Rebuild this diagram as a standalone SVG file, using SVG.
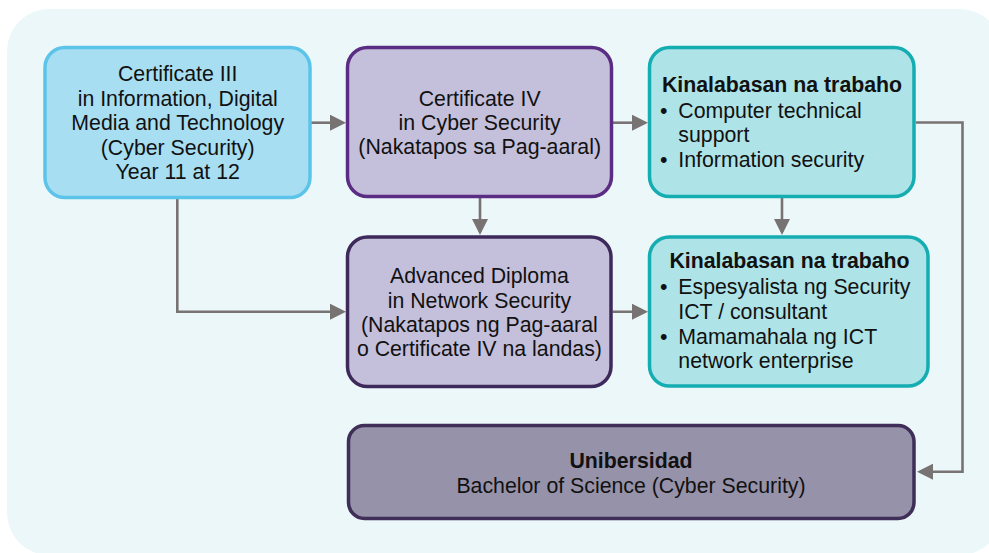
<svg xmlns="http://www.w3.org/2000/svg" width="989" height="553" viewBox="0 0 989 553">
<style>
text{font-family:"Liberation Sans",Arial,"Noto Sans",sans-serif;font-size:21.3px;fill:#111;}
.c{text-anchor:middle;}
.b{font-weight:bold;}
.box{stroke-width:3.5;}
.blue{fill:#a8def2;stroke:#5cc4e9;}
.lav{fill:#c4c0db;stroke:#5b2c83;}
.lav2{fill:#c4c0db;stroke:#3e2a5a;}
.teal{fill:#aee3e7;stroke:#14adb1;}
.uni{fill:#9692a9;stroke:#3e2e58;}
.conn{fill:none;stroke:#787373;stroke-width:2.6;marker-end:url(#ah);}
</style>
<defs>
<marker id="ah" markerUnits="userSpaceOnUse" markerWidth="16" markerHeight="16" refX="13" refY="8" orient="auto">
<path d="M0,0 L16,8 L0,16 Z" fill="#787373"/>
</marker>
</defs>
<rect x="7" y="9" width="995" height="546" rx="42" fill="#ecf7fa"/>
<g id="connectors">
<path class="conn" d="M311,122.7 H343"/>
<path class="conn" d="M613,122.7 H645"/>
<path class="conn" d="M480,198 V232"/>
<path class="conn" d="M782,198 V232"/>
<path class="conn" d="M177.3,199 V311.7 H343"/>
<path class="conn" d="M612.5,311.7 H645"/>
<path class="conn" d="M916,122.5 H962.5 V471.7 H920"/>
</g>
<g id="cert3">
<rect class="box blue" x="45" y="47.5" width="265" height="150" rx="20"/>
<text class="c" x="177.7" y="81">Certificate III</text>
<text class="c" x="177.7" y="105.6">in Information, Digital</text>
<text class="c" x="177.7" y="130.2">Media and Technology</text>
<text class="c" x="177.7" y="154.7">(Cyber Security)</text>
<text class="c" x="177.7" y="179.3">Year 11 at 12</text>
</g>
<g id="cert4">
<rect class="box lav" x="347.5" y="47.5" width="264" height="149" rx="20"/>
<text class="c" x="479.7" y="106">Certificate IV</text>
<text class="c" x="479.7" y="130">in Cyber Security</text>
<text class="c" x="479.7" y="154">(Nakatapos sa Pag-aaral)</text>
</g>
<g id="jobs1">
<rect class="box teal" x="649.5" y="47.5" width="264.5" height="149" rx="20"/>
<text class="c b" x="782" y="91.7">Kinalabasan na trabaho</text>
<text x="660" y="117.7">•</text>
<text x="678.3" y="117.7">Computer technical</text>
<text x="678.3" y="142">support</text>
<text x="660" y="167">•</text>
<text x="678.3" y="167">Information security</text>
</g>
<g id="advdip">
<rect class="box lav2" x="347.5" y="237" width="263.5" height="149.5" rx="20"/>
<text class="c" x="479.4" y="283.3">Advanced Diploma</text>
<text class="c" x="479.4" y="307.5">in Network Security</text>
<text class="c" x="479.4" y="331.7">(Nakatapos ng Pag-aaral</text>
<text class="c" x="479.4" y="355.9">o Certificate IV na landas)</text>
</g>
<g id="jobs2">
<rect class="box teal" x="649.5" y="237" width="278.5" height="149" rx="20"/>
<text class="c b" x="789.5" y="268.3">Kinalabasan na trabaho</text>
<text x="660" y="294">•</text>
<text x="678.3" y="294">Espesyalista ng Security</text>
<text x="678.3" y="318.7">ICT / consultant</text>
<text x="660" y="344">•</text>
<text x="678.3" y="344">Mamamahala ng ICT</text>
<text x="678.3" y="368">network enterprise</text>
</g>
<g id="uni">
<rect class="box uni" x="348.5" y="425.5" width="565.5" height="93" rx="16"/>
<text class="c b" x="631" y="468.3">Unibersidad</text>
<text class="c" x="631" y="492.7">Bachelor of Science (Cyber Security)</text>
</g>
</svg>
